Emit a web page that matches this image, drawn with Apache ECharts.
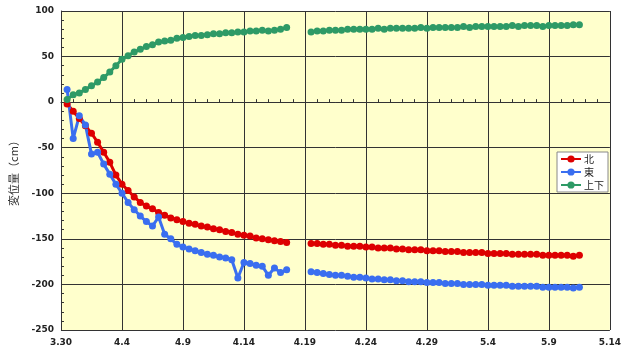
<!DOCTYPE html>
<html>
<head>
<meta charset="utf-8">
<script src="https://cdn.jsdelivr.net/npm/echarts@6/dist/echarts.min.js"></script>
<style>
  html, body { margin: 0; padding: 0; background: #fff; }
  #chart { width: 624px; height: 349px; }
</style>
</head>
<body>
<div id="chart"></div>
<script>
// x labels (dates), one per 5 days from 3/30
var tickLabels = ['3.30', '4.4', '4.9', '4.14', '4.19', '4.24', '4.29', '5.4', '5.9', '5.14']

// days since 3/30, before and after the gap
var days1 = [0.5, 1, 1.5, 2, 2.5, 3, 3.5, 4, 4.5, 5, 5.5, 6, 6.5, 7, 7.5, 8, 8.5, 9, 9.5, 10,
  10.5, 11, 11.5, 12, 12.5, 13, 13.5, 14, 14.5, 15, 15.5, 16, 16.5, 17, 17.5, 18, 18.5]
var days2 = [20.5, 21, 21.5, 22, 22.5, 23, 23.5, 24, 24.5, 25, 25.5, 26, 26.5, 27, 27.5, 28, 28.5,
  29, 29.5, 30, 30.5, 31, 31.5, 32, 32.5, 33, 33.5, 34, 34.5, 35, 35.5, 36, 36.5, 37, 37.5, 38,
  38.5, 39, 39.5, 40, 40.5, 41, 41.5, 42, 42.5]

// 北
var north1 = [-2, -10, -18, -26, -34, -44, -55, -66, -80, -90, -97, -104, -110, -114, -117, -121,
  -124, -127, -129, -131, -133, -134, -136, -137, -139, -140, -142, -143, -145, -146, -147, -149,
  -150, -151, -152, -153, -154]
var north2 = [-155, -155, -156, -156, -157, -157, -158, -158, -158, -159, -159, -160, -160, -160,
  -161, -161, -162, -162, -162, -163, -163, -163, -164, -164, -164, -165, -165, -165, -165, -166,
  -166, -166, -166, -167, -167, -167, -167, -167, -168, -168, -168, -168, -168, -169, -168]
// 東
var east1 = [14, -40, -15, -25, -57, -55, -68, -79, -90, -100, -110, -118, -125, -131, -136, -126,
  -145, -150, -156, -159, -161, -163, -165, -167, -168, -170, -171, -173, -193, -176, -177, -179,
  -180, -190, -182, -187, -184]
var east2 = [-186, -187, -188, -189, -190, -190, -191, -192, -192, -193, -194, -194, -195, -195,
  -196, -196, -197, -197, -197, -198, -198, -198, -199, -199, -199, -200, -200, -200, -200, -201,
  -201, -201, -201, -202, -202, -202, -202, -202, -203, -203, -203, -203, -203, -204, -203]
// 上下
var updown1 = [3, 8, 10, 14, 18, 22, 27, 33, 40, 47, 51, 55, 58, 61, 63, 66, 67, 68, 70, 71, 72,
  73, 73, 74, 75, 75, 76, 76, 77, 77, 78, 78, 79, 78, 79, 80, 82]
var updown2 = [77, 78, 78, 79, 79, 79, 80, 80, 80, 80, 80, 81, 80, 81, 81, 81, 81, 81, 82, 81,
  82, 82, 82, 82, 82, 83, 82, 83, 83, 83, 83, 83, 83, 84, 83, 84, 84, 84, 83, 84, 84, 84, 84, 85, 85]

function join(a, b) {
  var out = []
  days1.forEach(function(d, i) { out.push([d, a[i]]) })
  out.push([19.5, '-'])
  days2.forEach(function(d, i) { out.push([d, b[i]]) })
  return out
}

var chart = echarts.init(document.getElementById('chart'))
var labelFont = { color: '#222', fontSize: 9, fontWeight: 'bold', fontFamily: 'DejaVu Sans' }

function makeSeries(name, color, a, b) {
  return {
    name: name,
    type: 'line',
    data: join(a, b),
    symbol: 'circle',
    symbolSize: 7,
    showSymbol: true,
    connectNulls: false,
    itemStyle: { color: color },
    lineStyle: { color: color, width: 3 },
    animation: false
  }
}

var option = {
  animation: false,
  grid: {
    left: 58, right: 9, top: 11, bottom: 19,
    show: true, backgroundColor: '#ffffcc', borderWidth: 0
  },
  legend: {
    orient: 'vertical',
    right: 16,
    top: 152,
    backgroundColor: '#fff',
    borderColor: '#888',
    borderWidth: 1,
    padding: [2, 4, 2, 3],
    itemGap: 3,
    itemWidth: 20,
    itemHeight: 9,
    textStyle: { fontSize: 10, color: '#222', fontFamily: 'Noto Sans CJK JP', padding: [0, 0, 0, -2] },
    data: ['北', '東', '上下']
  },
  xAxis: {
    type: 'value',
    min: 0, max: 45, interval: 5,
    axisLine: { show: true, lineStyle: { color: '#333' } },
    axisTick: { show: true, inside: true, length: 3, lineStyle: { color: '#333' } },
    minorTick: { show: true, splitNumber: 5, length: 3, lineStyle: { color: '#333' } },
    axisLabel: Object.assign({
      margin: 8,
      formatter: function(v) { return tickLabels[Math.round(v / 5)] }
    }, labelFont),
    splitLine: { show: true, lineStyle: { color: '#333', width: 1 } }
  },
  yAxis: {
    type: 'value',
    min: -250, max: 100, interval: 50,
    name: '変位量（cm）',
    nameLocation: 'middle',
    nameGap: 42,
    nameTextStyle: { fontSize: 11, color: '#333', fontFamily: 'Noto Sans CJK JP' },
    axisLine: { show: true, lineStyle: { color: '#333' } },
    axisTick: { show: true, inside: true, length: 3, lineStyle: { color: '#333' } },
    minorTick: { show: true, splitNumber: 5, length: 3, lineStyle: { color: '#333' } },
    axisLabel: Object.assign({ margin: 7 }, labelFont),
    splitLine: { show: true, lineStyle: { color: '#333', width: 1 } }
  },
  series: [
    makeSeries('北', '#dd0000', north1, north2),
    makeSeries('東', '#3a6ef0', east1, east2),
    makeSeries('上下', '#2e9a66', updown1, updown2)
  ]
}
chart.setOption(option)
</script>
</body>
</html>
